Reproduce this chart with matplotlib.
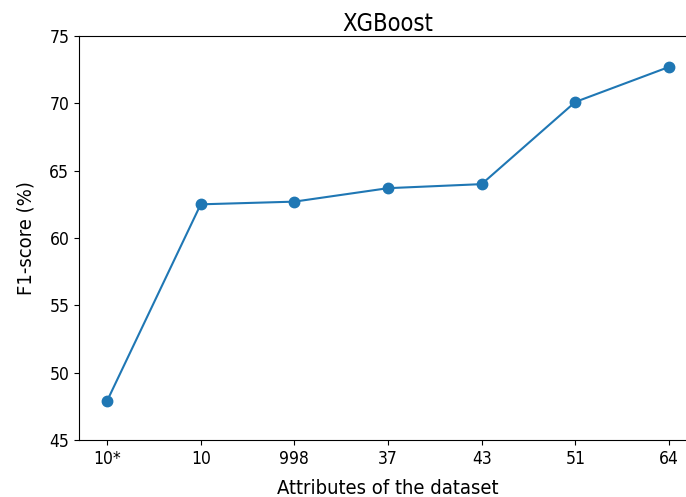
import matplotlib
matplotlib.use("Agg")
import matplotlib.pyplot as plt

attributes = ['10*', '10', '998', '37', '43', '51', '64']
f1_scores = [47.9, 62.5, 62.7, 63.7, 64.0, 70.1, 72.7]

plt.rcParams['font.family'] = 'DejaVu Sans'
plt.rcParams['font.stretch'] = 'condensed'

fig = plt.figure(figsize=(6.86, 4.97), dpi=100)
ax = fig.add_axes([79 / 686, 57 / 497, 618 / 686, 404 / 497])

ax.plot(attributes, f1_scores, marker='o', markersize=7.5, color='#1f77b4')
ax.set_ylim(45, 75)
ax.set_title('XGBoost', fontsize=17, pad=3.5)
ax.set_xlabel('Attributes of the dataset', fontsize=14.5, labelpad=8)
ax.set_ylabel('F1-score (%)', fontsize=14.5, labelpad=10)
ax.tick_params(labelsize=12.5)

fig.savefig('out.png', dpi=100)
